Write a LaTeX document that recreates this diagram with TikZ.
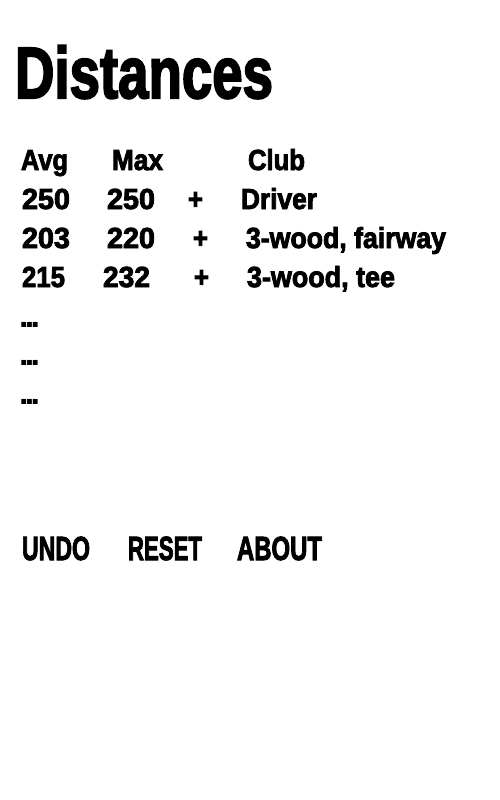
\documentclass[tikz,border=0pt]{standalone}
\usepackage{fontspec}
\usepackage{graphicx}
\setmainfont{Liberation Sans}
\newfontfamily\heavy{Liberation Sans}[UprightFont={* Bold}, UprightFeatures={FakeBold=3}]
\newfontfamily\plainbold{Liberation Sans}[UprightFont={* Bold}]
\newlength\fitlen
\newcommand\fitw[2]{\settowidth\fitlen{#2}\pgfmathsetmacro\fitscale{#1/\fitlen}\scalebox{\fitscale}[1]{#2}}
\newcommand\tightdots{.\kern-3.6pt.\kern-3.6pt.}
\tikzset{
  txt/.style={anchor=base west, inner sep=0pt, outer sep=0pt, font=\heavy\fontsize{29}{32}\selectfont},
  dts/.style={anchor=base west, inner sep=0pt, outer sep=0pt, font=\plainbold\fontsize{34}{40}\selectfont},
  ttl/.style={anchor=base west, inner sep=0pt, outer sep=0pt, font=\heavy\fontsize{72.6}{80}\selectfont},
  btn/.style={anchor=base west, inner sep=0pt, outer sep=0pt, font=\heavy\fontsize{33.5}{36}\selectfont}
}
\begin{document}
\begin{tikzpicture}[x=1pt,y=-1pt]
\useasboundingbox[fill=white] (0,0) rectangle (500,800);
\node[ttl] (title) at (15,98) {\fitw{258}{Distances}};
% header
\node[txt] (havg) at (21,170) {\fitw{47}{Avg}};
\node[txt] (hmax) at (112,170) {\fitw{51}{Max}};
\node[txt] (hclub) at (248,170) {\fitw{57}{Club}};
% row 1
\node[txt] (a1) at (22,209) {\fitw{48}{250}};
\node[txt] (m1) at (107,209) {\fitw{48}{250}};
\node[txt] (p1) at (188,209) {\fitw{15}{+}};
\node[txt] (c1) at (241,209) {\fitw{76}{Driver}};
% row 2
\node[txt] (a2) at (22,248) {\fitw{48}{203}};
\node[txt] (m2) at (107,248) {\fitw{48}{220}};
\node[txt] (p2) at (193,248) {\fitw{15}{+}};
\node[txt] (c2) at (246,248) {\fitw{200}{3-wood, fairway}};
% row 3
\node[txt] (a3) at (22,287) {\fitw{43}{215}};
\node[txt] (m3) at (103,287) {\fitw{47}{232}};
\node[txt] (p3) at (194,287) {\fitw{15}{+}};
\node[txt] (c3) at (247,287) {\fitw{148}{3-wood, tee}};
% dots
\node[dts] (d1) at (19,327) {\tightdots};
\node[dts] (d2) at (19,365) {\tightdots};
\node[dts] (d3) at (19,404) {\tightdots};
% buttons
\node[btn] (undo) at (22,560) {\fitw{68}{UNDO}};
\node[btn] (reset) at (128,560) {\fitw{74}{RESET}};
\node[btn] (about) at (237,560) {\fitw{85}{ABOUT}};
\end{tikzpicture}
\end{document}
